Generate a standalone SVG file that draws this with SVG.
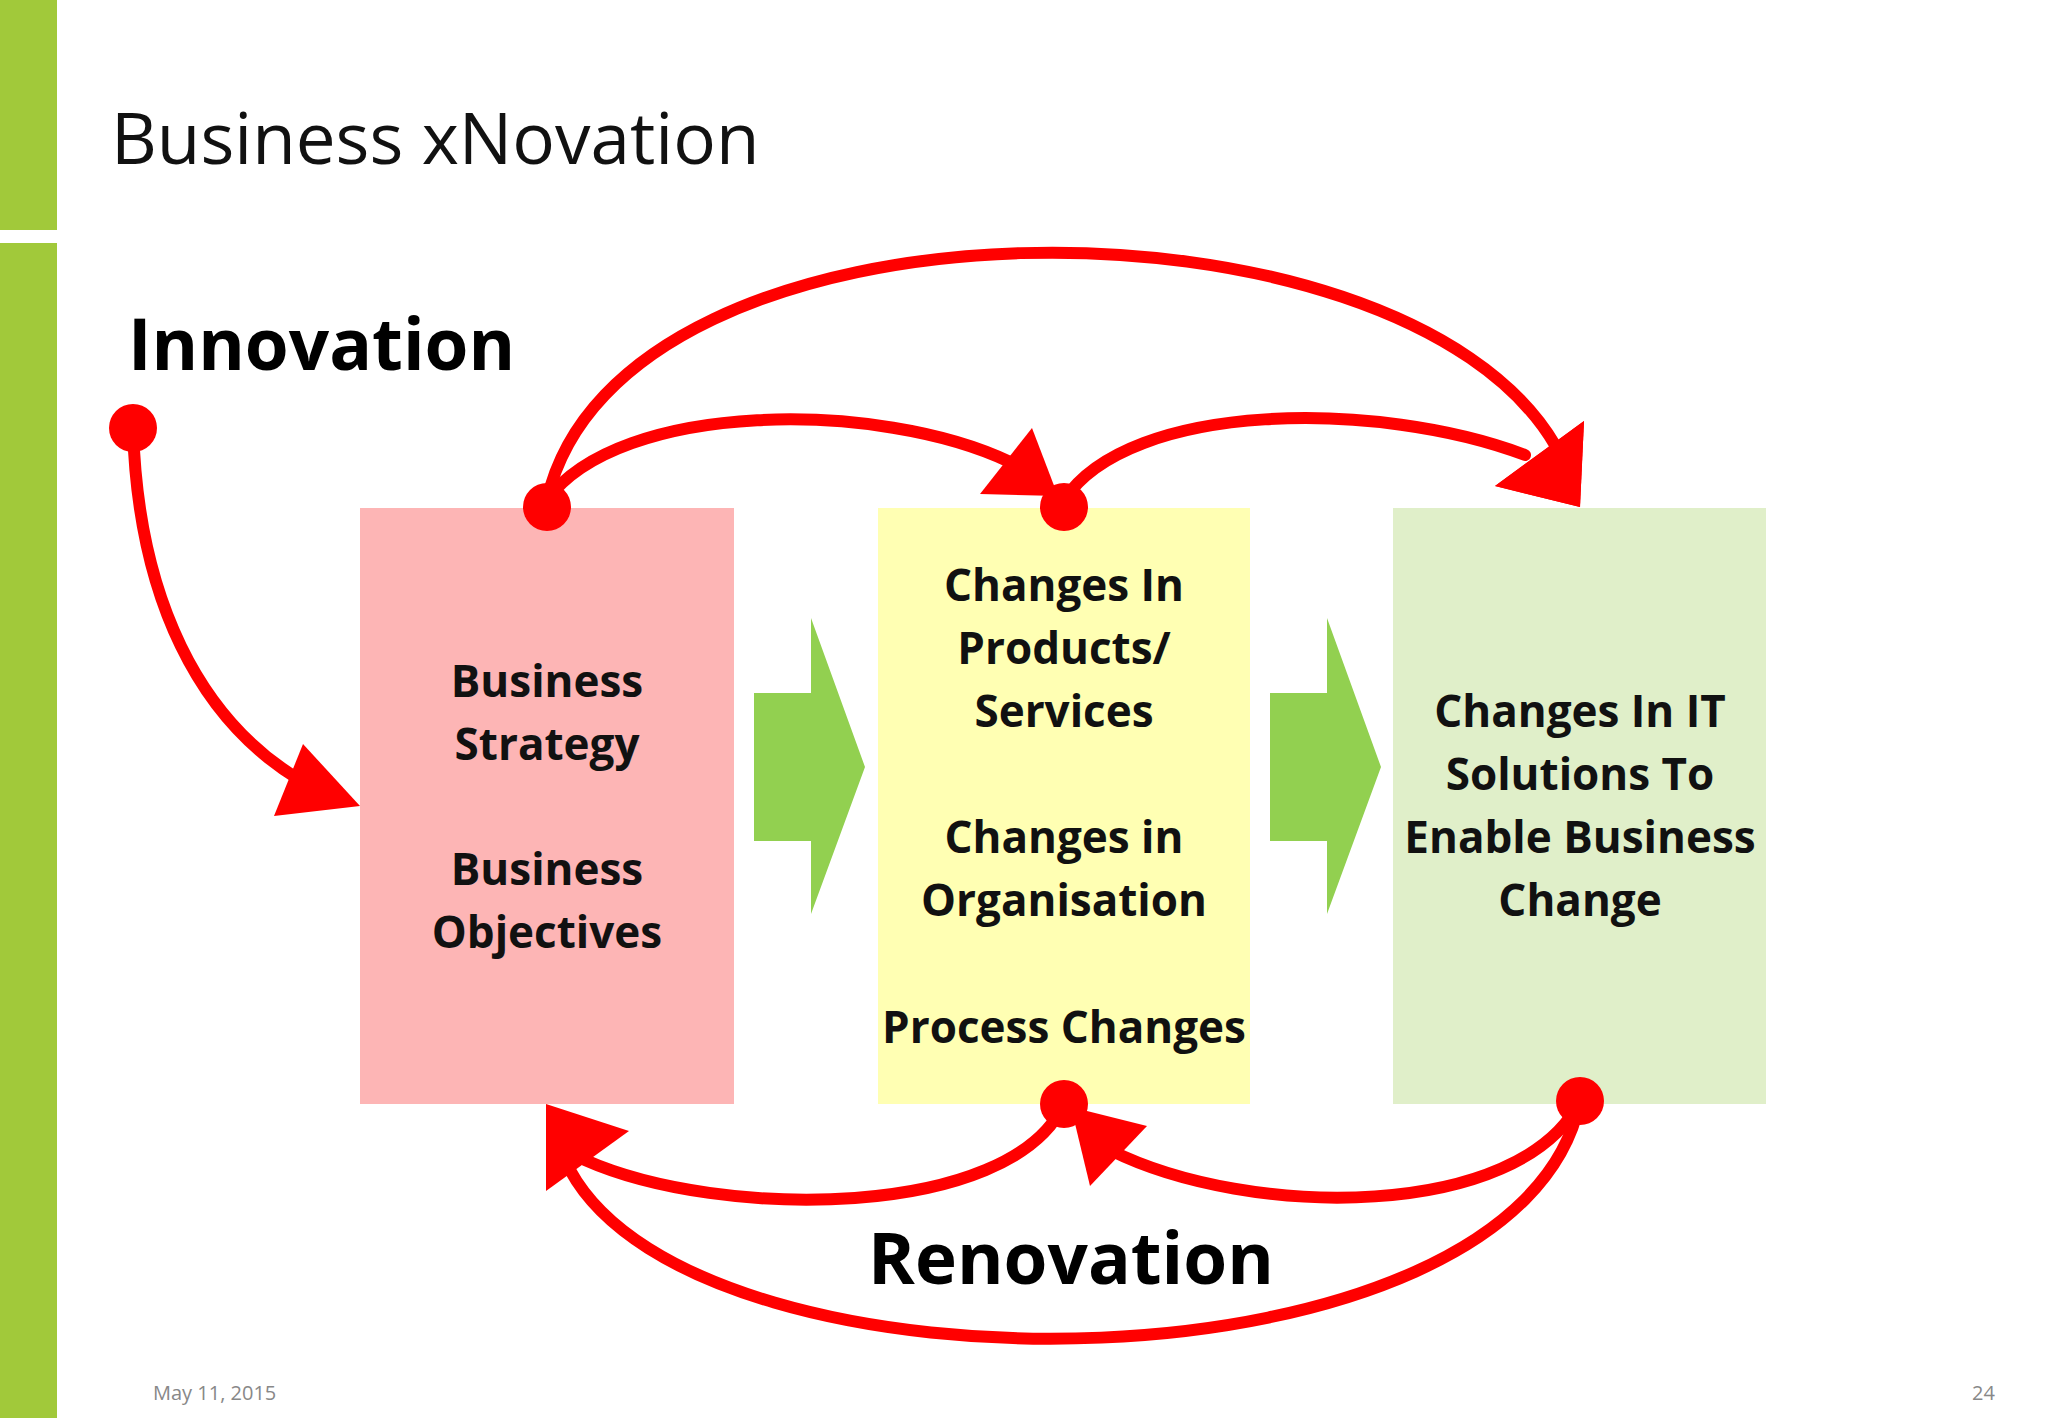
<svg xmlns="http://www.w3.org/2000/svg" width="2048" height="1418" viewBox="0 0 2048 1418">
<style>
.t{font-family:"Open Sans","Noto Sans",sans-serif;font-weight:bold;font-size:44px;fill:#111;text-anchor:middle}
.r{fill:none;stroke:#ff0000;stroke-width:12;stroke-linecap:round}
.h{fill:#ff0000}
.g{fill:#92d050}
</style>
<rect width="2048" height="1418" fill="#fff"/>
<rect x="0" y="0" width="57" height="230" fill="#a1c93a"/>
<rect x="0" y="243" width="57" height="1175" fill="#a1c93a"/>
<text x="111" y="164" font-family="Open Sans,Noto Sans,sans-serif" font-size="71" fill="#111">Business xNovation</text>
<text x="128" y="370" font-family="Open Sans,Noto Sans,sans-serif" font-weight="bold" font-size="71" fill="#000">Innovation</text>
<g id="strategy"><rect x="360" y="508" width="374" height="596" fill="#fdb5b5"/>
<text class="t" x="547" y="697">Business</text><text class="t" x="547" y="760">Strategy</text><text class="t" x="547" y="885">Business</text><text class="t" x="547" y="948">Objectives</text></g>
<g id="changes"><rect x="878" y="508" width="372" height="596" fill="#ffffb3"/>
<text class="t" x="1064" y="601">Changes In</text><text class="t" x="1064" y="664">Products/</text><text class="t" x="1064" y="727">Services</text><text class="t" x="1064" y="853">Changes in</text><text class="t" x="1064" y="916">Organisation</text><text class="t" x="1064" y="1043">Process Changes</text></g>
<g id="it"><rect x="1393" y="508" width="373" height="596" fill="#e0efc9"/>
<text class="t" x="1580" y="727">Changes In IT</text><text class="t" x="1580" y="790">Solutions To</text><text class="t" x="1580" y="853">Enable Business</text><text class="t" x="1580" y="916">Change</text></g>
<g id="flow1"><path class="g" d="M754,693 H811 V618 L865,767 L811,914 V841 H754 Z"/></g>
<g id="flow2"><path class="g" d="M1270,693 H1327 V618 L1381,767 L1327,914 V841 H1270 Z"/></g>
<text x="1071" y="1284" font-family="Open Sans,Noto Sans,sans-serif" font-weight="bold" font-size="71" fill="#000" text-anchor="middle">Renovation</text>
<text x="153" y="1400" font-family="Open Sans,Noto Sans,sans-serif" font-size="20" fill="#888">May 11, 2015</text>
<text x="1972" y="1400" font-family="Open Sans,Noto Sans,sans-serif" font-size="20" fill="#888">24</text>
<g id="connectors">
<path class="r" d="M133,428 C138,600 200,720 300,780"/>
<polygon class="h" points="274,816 303,744 360,806"/>
<circle class="h" cx="133" cy="428" r="24"/>
<path class="r" d="M547,500 C620,400 880,400 1010,462"/>
<polygon class="h" points="980,494 1032,428 1058,496"/>
<path class="r" d="M547,500 C620,180 1400,180 1555,445"/>
<polygon class="h" points="1495,486 1584,421 1580,507"/>
<path class="r" d="M1064,500 C1130,400 1380,400 1525,455"/>
<polygon class="h" points="1495,486 1584,421 1580,507"/>
<circle class="h" cx="547" cy="507" r="24"/>
<circle class="h" cx="1064" cy="507" r="24"/>
<path class="r" d="M1064,1104 C1010,1220 720,1220 585,1160"/>
<polygon class="h" points="546,1104 546,1191 629,1131"/>
<path class="r" d="M1580,1101 C1520,1220 1250,1220 1110,1150"/>
<polygon class="h" points="1071,1107 1090,1186 1147,1126"/>
<path class="r" d="M1580,1101 C1520,1400 700,1410 570,1170"/>
<circle class="h" cx="1064" cy="1104" r="24"/>
<circle class="h" cx="1580" cy="1101" r="24"/>
</g>
</svg>
